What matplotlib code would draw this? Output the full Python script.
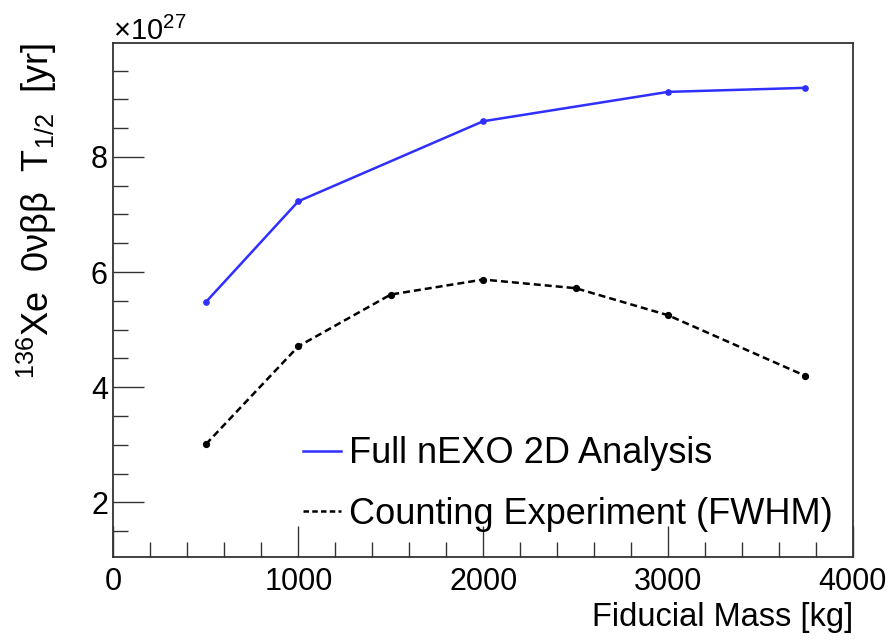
import matplotlib
matplotlib.use("Agg")
import matplotlib.pyplot as plt
from matplotlib.lines import Line2D
from matplotlib.ticker import MultipleLocator

matplotlib.rcParams.update({
    "font.family": ["Liberation Sans", "DejaVu Sans"],
    "mathtext.fontset": "custom",
    "mathtext.rm": "Liberation Sans",
    "mathtext.it": "Liberation Sans:italic",
    "mathtext.default": "regular",
})

# half-life sensitivity (units of 1e27 yr) vs fiducial mass (kg)
mass_full = [500, 1000, 2000, 3000, 3740]
t12_full = [5.48, 7.23, 8.62, 9.13, 9.20]

mass_count = [500, 1000, 1500, 2000, 2500, 3000, 3740]
t12_count = [3.01, 4.71, 5.61, 5.87, 5.72, 5.25, 4.20]

labels = ["Full nEXO 2D Analysis", "Counting Experiment (FWHM)"]

BLUE = "#2f2fff"
DASH = (0, (2.8, 1.6))

fig = plt.figure(figsize=(8.95, 6.41), dpi=100, facecolor="white")
ax = fig.add_axes([0.1268, 0.131, 0.953 - 0.1268, 0.933 - 0.131])

ax.plot(mass_full, t12_full, color=BLUE, lw=1.8, marker="o", ms=3.8)
ax.plot(mass_count, t12_count, color="black", lw=1.8, ls=DASH,
        marker="o", ms=4.2)

ax.set_xlim(0, 4000)
ax.set_ylim(1.05, 9.98)
ax.xaxis.set_major_locator(MultipleLocator(1000))
ax.xaxis.set_minor_locator(MultipleLocator(200))
ax.yaxis.set_major_locator(MultipleLocator(2))
ax.yaxis.set_minor_locator(MultipleLocator(0.5))
ax.tick_params(which="both", direction="in", top=False, right=False,
               labelsize=22, width=1.0, color="#333333")
ax.tick_params(which="major", length=22)
ax.tick_params(which="minor", length=11)
ax.tick_params(axis="x", which="major", pad=7)
ax.tick_params(axis="y", which="major", pad=4)
for sp in ax.spines.values():
    sp.set_linewidth(1.3)
    sp.set_color("#333333")

ax.set_xlabel("Fiducial Mass [kg]", fontsize=23.5, loc="right", labelpad=4)
ax.set_ylabel("$^{136}$Xe  0νββ  T$_{1/2}$  [yr]", fontsize=26, loc="top",
              va="center")
ax.yaxis.set_label_coords(-0.104, 1.0)
ax.text(0.0, 0.995, r"$\times10^{27}$", transform=ax.transAxes,
        fontsize=21, ha="left", va="bottom")

handles = [Line2D([], [], color=BLUE, lw=1.8),
           Line2D([], [], color="black", lw=1.8, ls=(0, (2.2, 1.3)))]
ax.legend(handles, labels, loc="center left", bbox_to_anchor=(0.256, 0.142),
          frameon=False, fontsize=26, handlelength=1.05, handletextpad=0.22,
          labelspacing=0.7, borderpad=0, borderaxespad=0)

fig.savefig("out.png", dpi=100, facecolor="white")
